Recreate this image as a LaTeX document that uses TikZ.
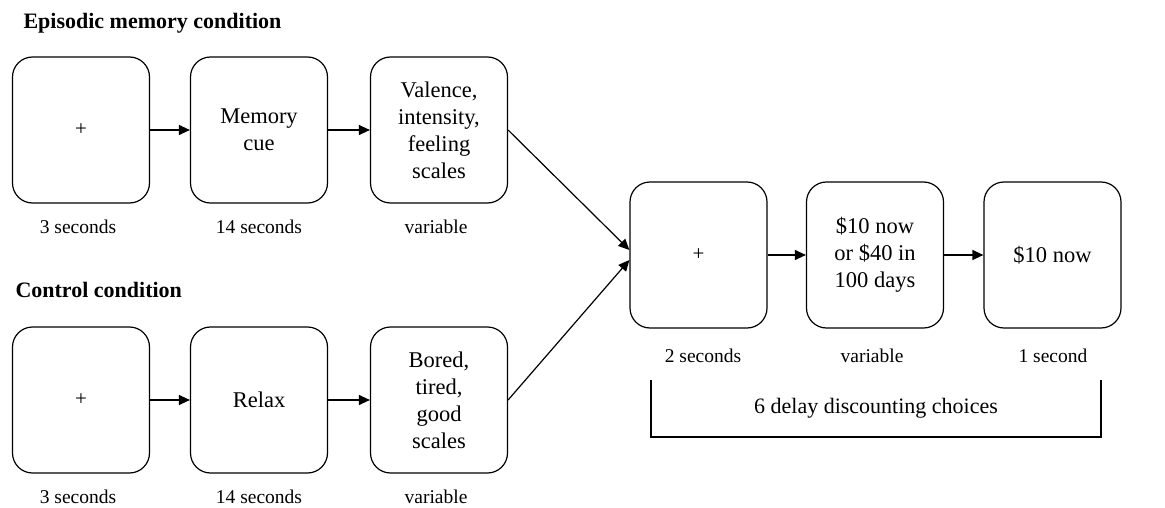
\documentclass[tikz,border=0pt]{standalone}
\usepackage{fontspec}
\setmainfont{Liberation Serif}
\usetikzlibrary{arrows.meta}
\begin{document}
\begin{tikzpicture}[x=1pt,y=-1pt,
  stepbox/.style={draw, line width=1.2pt, rounded corners=20pt, minimum width=137pt, minimum height=146pt, align=center, inner sep=2pt, font=\fontsize{22.5}{27}\selectfont},
  timelabel/.style={anchor=base, font=\fontsize{19.5}{23}\selectfont},
  cond/.style={anchor=base west, font=\fontsize{22}{26}\selectfont\bfseries},
  arr/.style={line width=1.2pt, -{Triangle[length=11pt,width=10pt]}},
  brk/.style={line width=1.3pt}]
\path[use as bounding box] (0,0) rectangle (1165,508);

\node[cond] (t1) at (20,29) {Episodic memory condition};
\node[cond] (t2) at (12,297) {Control condition};

\node[stepbox] (a1) at (81,130) {\fontsize{21}{23}\selectfont +};
\node[stepbox] (a2) at (259,130) {Memory\\cue};
\node[stepbox] (a3) at (439,130) {Valence,\\intensity,\\feeling\\scales};

\node[stepbox] (b1) at (81,400) {\fontsize{21}{23}\selectfont +};
\node[stepbox] (b2) at (259,400) {Relax};
\node[stepbox] (b3) at (439,400) {Bored,\\tired,\\good\\scales};

\node[stepbox] (c1) at (698.5,255) {\fontsize{21}{23}\selectfont +};
\node[stepbox] (c2) at (875,255) {\$10 now\\or \$40 in\\100 days};
\node[stepbox] (c3) at (1052.5,255) {\$10 now};

\node[timelabel] (la1) at (78,233) {3 seconds};
\node[timelabel] (la2) at (259,233) {14 seconds};
\node[timelabel] (la3) at (436,233) {variable};
\node[timelabel] (lb1) at (78,503) {3 seconds};
\node[timelabel] (lb2) at (259,503) {14 seconds};
\node[timelabel] (lb3) at (436,503) {variable};
\node[timelabel] (lc1) at (703,362) {2 seconds};
\node[timelabel] (lc2) at (872,362) {variable};
\node[timelabel] (lc3) at (1053,362) {1 second};

\draw[arr] (a1) -- (a2);
\draw[arr] (a2) -- (a3);
\draw[arr] (b1) -- (b2);
\draw[arr] (b2) -- (b3);
\draw[arr] (c1) -- (c2);
\draw[arr] (c2) -- (c3);
\draw[arr] (a3.east) -- ([yshift=5pt]c1.west);
\draw[arr] (b3.east) -- ([yshift=-5pt]c1.west);

\coordinate (k1) at (651,380);
\coordinate (k2) at (651,437);
\coordinate (k3) at (1101,437);
\coordinate (k4) at (1101,380);
\draw[brk] (k1) -- (k2) -- (k3) -- (k4);
\node[anchor=base, font=\fontsize{22}{26}\selectfont] (bl) at (876,413) {6 delay discounting choices};
\end{tikzpicture}
\end{document}
